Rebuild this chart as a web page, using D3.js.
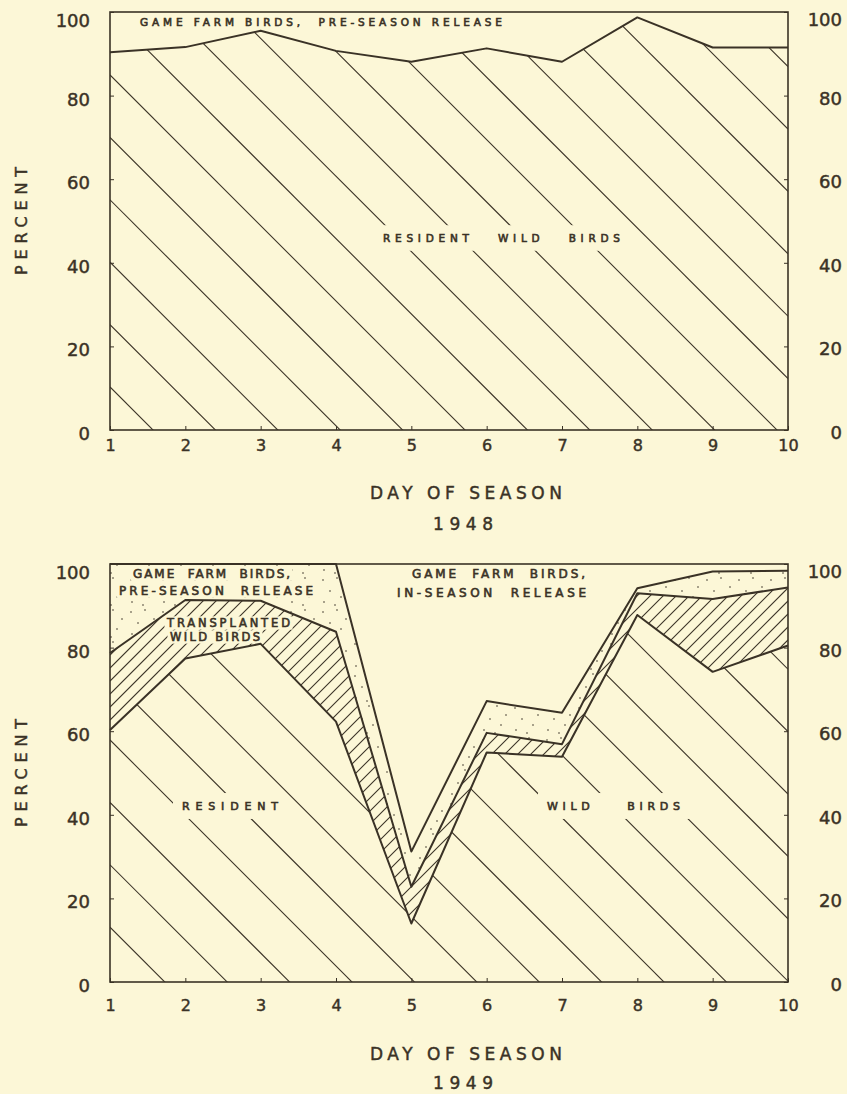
<!DOCTYPE html>
<meta charset="utf-8">
<style>
body { margin: 0; background: #fcf7d7; }
svg { display: block; }
text { font-family: "DejaVu Sans", sans-serif; fill: #3a3226; white-space: pre; stroke: #3a3226; stroke-width: 0.45; }
.inner { stroke-width: 0.6; }
.frame { fill: none; stroke: #3a3226; stroke-width: 1.6; }
.edge { fill: none; stroke: #3a3226; stroke-width: 2; stroke-linejoin: round; }
.hatch { stroke: #3a3226; stroke-width: 1.1; }
</style>
<body>
<script src="https://cdn.jsdelivr.net/npm/d3@7"></script>
<script>

var days = [1, 2, 3, 4, 5, 6, 7, 8, 9, 10];
var yTicks = [0, 20, 40, 60, 80, 100];

// 1948: top of the resident wild birds band (rest is game farm, pre-season)
var wild48 = [90.4, 91.6, 95.5, 90.7, 88.1, 91.3, 88.1, 98.7, 91.5, 91.5];

// 1949: cumulative top of each band
var resident49     = [60.3, 77.4, 80.9, 62.3, 14.0, 54.9, 53.9, 87.8, 74.2, 80.5];
var transplanted49 = [78.7, 91.4, 91.2, 83.8, 22.8, 59.6, 56.9, 93.0, 91.6, 94.4];
var preSeason49    = [100, 100, 100, 100, 31.2, 67.2, 64.4, 94.2, 98.2, 98.4];

// stipple texture for the pre-season band (fixed dot layout in one tile)
var stippleDots = [[3, 4], [17, 2], [26, 11], [10, 15], [21, 21], [4, 26], [15, 29]];

var W = 847, H = 1094;
var left = 110, right = 788, plotH = 418;
var bg = "#fcf7d7";

var x = d3.scaleLinear().domain([1, 10]).range([left, right]);

var svg = d3.select("body").append("svg")
    .attr("width", W)
    .attr("height", H);

svg.append("rect").attr("width", W).attr("height", H).attr("fill", bg);

var defs = svg.append("defs");

defs.append("pattern")
    .attr("id", "stipple")
    .attr("patternUnits", "userSpaceOnUse")
    .attr("width", 32)
    .attr("height", 32)
  .selectAll("circle")
  .data(stippleDots)
  .enter().append("circle")
    .attr("cx", function(d) { return d[0]; })
    .attr("cy", function(d) { return d[1]; })
    .attr("r", 0.8)
    .attr("fill", "#3a3226");

function band(y, lower, upper) {
  var area = d3.area()
      .x(function(d, i) { return x(days[i]); })
      .y0(function(d) { return y(d[0]); })
      .y1(function(d) { return y(d[1]); });
  return area(days.map(function(d, i) { return [lower[i], upper[i]]; }));
}

function edge(y, vals) {
  return d3.line()
      .x(function(d, i) { return x(days[i]); })
      .y(function(d) { return y(d); })(vals);
}

// slope 1 => "\" lines (y - x = c), slope -1 => "/" lines (y + x = c)
function hatch(g, clipId, y, slope, step, phase) {
  var top = y(100), bot = y(0);
  var cmin = slope > 0 ? top - right : top + left;
  var cmax = slope > 0 ? bot - left : bot + right;
  var k0 = Math.ceil((cmin - phase) / step), k1 = Math.floor((cmax - phase) / step);
  var cs = d3.range(k0, k1 + 1).map(function(k) { return phase + k * step; });
  g.append("g")
      .attr("clip-path", "url(#" + clipId + ")")
    .selectAll("line")
    .data(cs)
    .enter().append("line")
      .attr("class", "hatch")
      .attr("x1", left)
      .attr("y1", function(c) { return slope > 0 ? left + c : c - left; })
      .attr("x2", right)
      .attr("y2", function(c) { return slope > 0 ? right + c : c - right; });
}

function clip(id, d) {
  defs.append("clipPath").attr("id", id).append("path").attr("d", d);
}

function labelBg(g, l) {
  if (!l.pad) return;
  g.append("rect")
      .attr("x", l.x0 - l.pad)
      .attr("y", l.cy - 0.36 * l.size - l.pad)
      .attr("width", l.x1 - l.x0 + 2 * l.pad)
      .attr("height", 0.72 * l.size + 2 * l.pad)
      .attr("fill", bg);
}

function labelText(g, l) {
  g.append("text")
      .attr("class", "inner")
      .attr("x", l.x0)
      .attr("y", l.cy + 0.36 * l.size)
      .attr("font-size", l.size)
      .attr("textLength", l.x1 - l.x0)
      .attr("lengthAdjust", "spacing")
      .text(l.text);
}

function axes(g, y, xLabelY, titleY, yearY, year) {
  var base = y(0);

  g.append("g")
      .attr("transform", "translate(" + left + ",0)")
      .attr("color", "#3a3226")
      .call(d3.axisLeft(y).tickValues(yTicks).tickSize(-4).tickPadding(20))
      .call(function(a) { a.select(".domain").remove(); })
    .selectAll("text")
      .attr("font-size", 18)
      .attr("dy", function(d) { return (d === 100 ? 8 : 3) + 6.5; });

  g.append("g")
      .attr("transform", "translate(" + right + ",0)")
      .attr("color", "#3a3226")
      .call(d3.axisRight(y).tickValues(yTicks).tickSize(-4))
      .call(function(a) { a.select(".domain").remove(); })
    .selectAll("text")
      .attr("font-size", 18)
      .attr("text-anchor", "end")
      .attr("x", 54)
      .attr("dy", function(d) { return (d === 100 ? 7 : 2) + 6.5; });

  g.append("g")
      .attr("transform", "translate(0," + base + ")")
      .attr("color", "#3a3226")
      .call(d3.axisBottom(x).tickValues(days).tickSize(-4))
      .call(function(a) { a.select(".domain").remove(); })
    .selectAll("text")
      .attr("font-size", 16)
      .attr("y", xLabelY - base + 5.8)
      .attr("dy", 0);

  g.append("rect")
      .attr("class", "frame")
      .attr("x", left)
      .attr("y", y(100))
      .attr("width", right - left)
      .attr("height", plotH);

  var mid = (y(0) + y(100)) / 2;
  g.append("text")
      .attr("transform", "translate(27," + mid + ")rotate(-90)")
      .attr("text-anchor", "middle")
      .attr("font-size", 16)
      .attr("textLength", 108)
      .attr("lengthAdjust", "spacing")
      .text("PERCENT");

  g.append("text")
      .attr("x", 466).attr("y", titleY + 6.2)
      .attr("text-anchor", "middle")
      .attr("font-size", 17)
      .attr("textLength", 192)
      .attr("lengthAdjust", "spacing")
      .text("DAY OF SEASON");

  g.append("text")
      .attr("x", 463).attr("y", yearY + 6.2)
      .attr("text-anchor", "middle")
      .attr("font-size", 17)
      .attr("textLength", 60)
      .attr("lengthAdjust", "spacing")
      .text(year);
}

// ---------- 1948 ----------
(function() {
  var y = d3.scaleLinear().domain([0, 100]).range([12 + plotH, 12]);
  var g = svg.append("g");
  var zeros = days.map(function() { return 0; });

  clip("res48", band(y, zeros, wild48));
  hatch(g, "res48", y, 1, 62.4, 277);

  var labels = [
    {text: "GAME FARM BIRDS,  PRE-SEASON RELEASE", x0: 140, x1: 502, cy: 22.5, size: 10.5, pad: 0},
    {text: "RESIDENT   WILD   BIRDS", x0: 383, x1: 620, cy: 238, size: 10.5, pad: 9}
  ];
  labels.forEach(function(l) { labelBg(g, l); });

  g.append("path").attr("class", "edge").attr("d", edge(y, wild48));

  axes(g, y, 445, 493, 524, "1948");
  labels.forEach(function(l) { labelText(g, l); });
})();

// ---------- 1949 ----------
(function() {
  var y = d3.scaleLinear().domain([0, 100]).range([564 + plotH, 564]);
  var g = svg.append("g");
  var zeros = days.map(function() { return 0; });

  g.append("path")
      .attr("d", band(y, transplanted49, preSeason49))
      .attr("fill", "url(#stipple)");

  clip("res49", band(y, zeros, resident49));
  clip("tra49", band(y, resident49, transplanted49));
  hatch(g, "res49", y, 1, 62.4, 630);
  hatch(g, "tra49", y, -1, 13, 700);

  var labels = [
    {text: "GAME  FARM  BIRDS,", x0: 133, x1: 290, cy: 574, size: 12, pad: 2.5},
    {text: "PRE-SEASON  RELEASE", x0: 119, x1: 313, cy: 591, size: 12, pad: 2.5},
    {text: "TRANSPLANTED", x0: 167, x1: 290, cy: 623, size: 11.5, pad: 2.5},
    {text: "WILD BIRDS", x0: 170, x1: 260, cy: 637, size: 11.5, pad: 2.5},
    {text: "GAME  FARM  BIRDS,", x0: 412, x1: 585, cy: 574, size: 12, pad: 0},
    {text: "IN-SEASON  RELEASE", x0: 397, x1: 586, cy: 593, size: 12, pad: 0},
    {text: "RESIDENT", x0: 182, x1: 278, cy: 806, size: 11, pad: 9},
    {text: "WILD    BIRDS", x0: 547, x1: 680, cy: 806, size: 11, pad: 9}
  ];
  labels.forEach(function(l) { labelBg(g, l); });

  [resident49, transplanted49, preSeason49].forEach(function(v) {
    g.append("path").attr("class", "edge").attr("d", edge(y, v));
  });

  axes(g, y, 1005, 1054, 1083, "1949");
  labels.forEach(function(l) { labelText(g, l); });
})();

</script>
